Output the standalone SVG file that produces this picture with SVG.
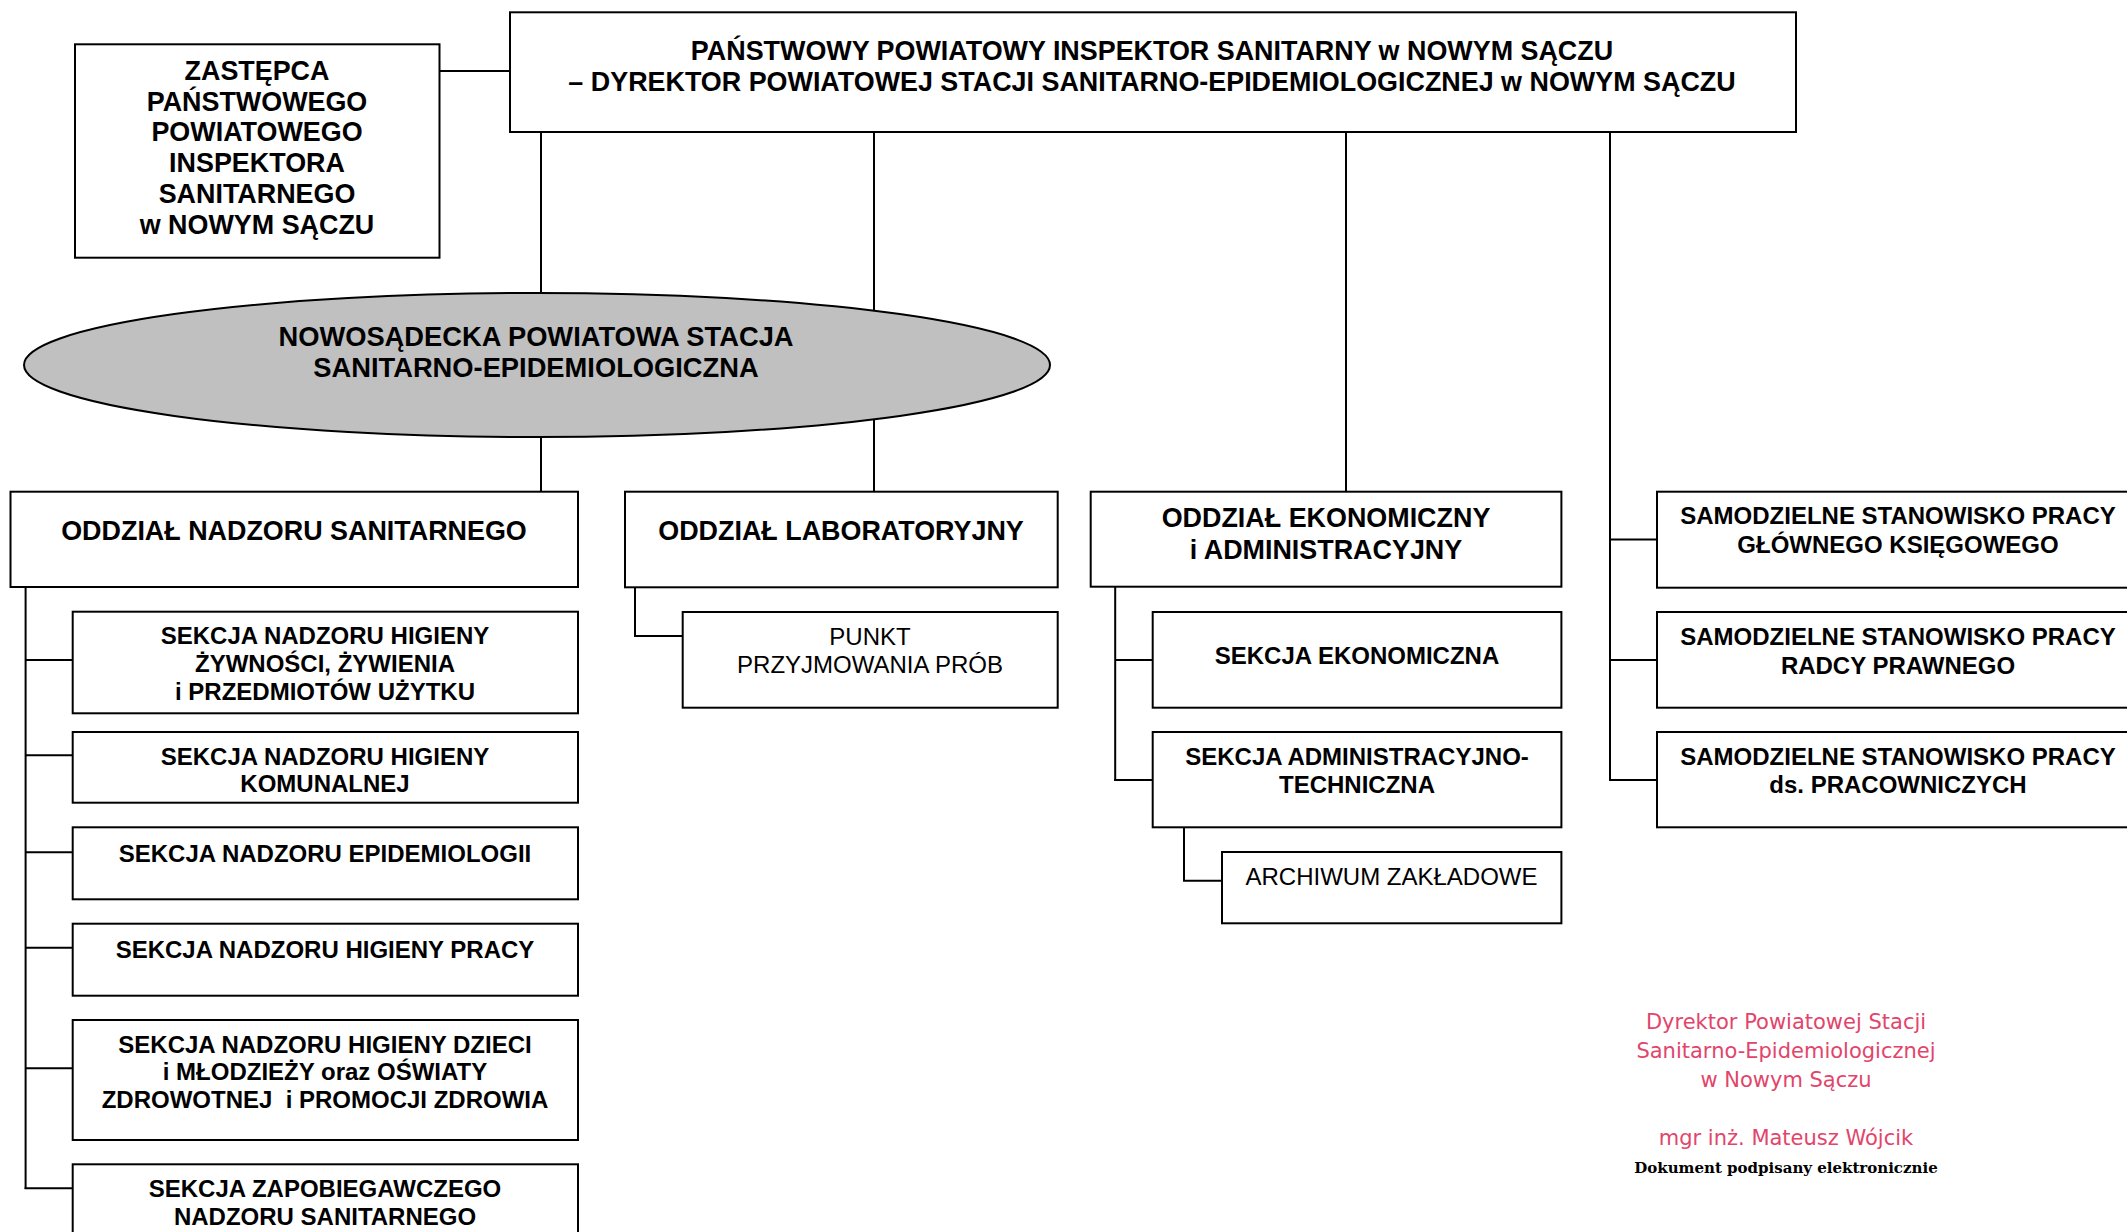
<svg xmlns="http://www.w3.org/2000/svg" width="2127" height="1232" viewBox="0 0 2127 1232">
<style>
.box{fill:#fff;stroke:#000;stroke-width:2}
.ell{fill:#c0c0c0;stroke:#000;stroke-width:2}
.c{stroke:#000;stroke-width:2;fill:none}
.b{font-family:"Liberation Sans",Arial,sans-serif;font-weight:bold;text-anchor:middle;fill:#000}
.h{font-size:26.9px}
.e{font-size:27.3px}
.s{font-size:24px}
.r{font-family:"Liberation Sans",Arial,sans-serif;font-size:24px;text-anchor:middle;fill:#000}
.sig{font-family:"DejaVu Sans",Verdana,sans-serif;font-size:21px;fill:#e2456b;text-anchor:middle}
.doc{font-family:"DejaVu Serif",serif;font-weight:bold;font-size:15px;text-anchor:middle;fill:#000}
</style>
<rect width="2127" height="1232" fill="#fff"/>
<g id="connectors">
<line class="c" x1="439.5" y1="71" x2="510" y2="71"/>
<line class="c" x1="541" y1="132" x2="541" y2="491.5"/>
<line class="c" x1="874" y1="132" x2="874" y2="491.5"/>
<line class="c" x1="1346" y1="132" x2="1346" y2="491.5"/>
<line class="c" x1="1610" y1="132" x2="1610" y2="780"/>
<line class="c" x1="1610" y1="539.5" x2="1657" y2="539.5"/>
<line class="c" x1="1610" y1="660" x2="1657" y2="660"/>
<line class="c" x1="1609" y1="780" x2="1657" y2="780"/>
<line class="c" x1="25.6" y1="587" x2="25.6" y2="1189"/>
<line class="c" x1="25.6" y1="660" x2="72.7" y2="660"/>
<line class="c" x1="25.6" y1="755.3" x2="72.7" y2="755.3"/>
<line class="c" x1="25.6" y1="852.3" x2="72.7" y2="852.3"/>
<line class="c" x1="25.6" y1="947.7" x2="72.7" y2="947.7"/>
<line class="c" x1="25.6" y1="1068.3" x2="72.7" y2="1068.3"/>
<line class="c" x1="24.6" y1="1188.3" x2="72.7" y2="1188.3"/>
<path class="c" d="M635 587 V636 H682.7"/>
<line class="c" x1="1115.2" y1="587" x2="1115.2" y2="781"/>
<line class="c" x1="1115.2" y1="660" x2="1152.7" y2="660"/>
<line class="c" x1="1114.2" y1="780" x2="1152.7" y2="780"/>
<path class="c" d="M1184 827 V880.7 H1222"/>
</g>
<g id="top">
<rect class="box" x="510" y="12.3" width="1286" height="119.7"/>
<text class="b h" x="1152" y="59.5">PAŃSTWOWY POWIATOWY INSPEKTOR SANITARNY w NOWYM SĄCZU</text>
<text class="b h" x="1152" y="90.5">– DYREKTOR POWIATOWEJ STACJI SANITARNO-EPIDEMIOLOGICZNEJ w NOWYM SĄCZU</text>
</g>
<g id="zastepca">
<rect class="box" x="75" y="44.3" width="364.5" height="213.4"/>
<text class="b h" x="257" y="79.5">ZASTĘPCA</text>
<text class="b h" x="257" y="110.5">PAŃSTWOWEGO</text>
<text class="b h" x="257" y="141.3">POWIATOWEGO</text>
<text class="b h" x="257" y="172">INSPEKTORA</text>
<text class="b h" x="257" y="203">SANITARNEGO</text>
<text class="b h" x="257" y="233.5">w NOWYM SĄCZU</text>
</g>
<g id="stacja">
<ellipse class="ell" cx="537" cy="365" rx="513" ry="72"/>
<text class="b e" x="536" y="346">NOWOSĄDECKA POWIATOWA STACJA</text>
<text class="b e" x="536" y="377">SANITARNO-EPIDEMIOLOGICZNA</text>
</g>
<g id="ons">
<rect class="box" x="10.5" y="491.7" width="567.5" height="95.3"/>
<text class="b h" x="294" y="540">ODDZIAŁ NADZORU SANITARNEGO</text>
</g>
<g id="s1">
<rect class="box" x="72.7" y="611.7" width="505.3" height="101.6"/>
<text class="b s" x="325" y="643.6">SEKCJA NADZORU HIGIENY</text>
<text class="b s" x="325" y="671.6">ŻYWNOŚCI, ŻYWIENIA</text>
<text class="b s" x="325" y="699.6">i PRZEDMIOTÓW UŻYTKU</text>
</g>
<g id="s2">
<rect class="box" x="72.7" y="732" width="505.3" height="70.7"/>
<text class="b s" x="325" y="764.6">SEKCJA NADZORU HIGIENY</text>
<text class="b s" x="325" y="792">KOMUNALNEJ</text>
</g>
<g id="s3">
<rect class="box" x="72.7" y="827.3" width="505.3" height="72"/>
<text class="b s" x="325" y="862">SEKCJA NADZORU EPIDEMIOLOGII</text>
</g>
<g id="s4">
<rect class="box" x="72.7" y="923.7" width="505.3" height="72"/>
<text class="b s" x="325" y="958">SEKCJA NADZORU HIGIENY PRACY</text>
</g>
<g id="s5">
<rect class="box" x="72.7" y="1020" width="505.3" height="120"/>
<text class="b s" x="325" y="1052.6">SEKCJA NADZORU HIGIENY DZIECI</text>
<text class="b s" x="325" y="1079.6">i MŁODZIEŻY oraz OŚWIATY</text>
<text class="b s" x="325" y="1108" xml:space="preserve">ZDROWOTNEJ  i PROMOCJI ZDROWIA</text>
</g>
<g id="s6">
<rect class="box" x="72.7" y="1164.3" width="505.3" height="90"/>
<text class="b s" x="325" y="1196.6">SEKCJA ZAPOBIEGAWCZEGO</text>
<text class="b s" x="325" y="1224.6">NADZORU SANITARNEGO</text>
</g>
<g id="ol">
<rect class="box" x="625" y="491.7" width="432.7" height="95.6"/>
<text class="b h" x="841" y="540">ODDZIAŁ LABORATORYJNY</text>
</g>
<g id="punkt">
<rect class="box" x="682.7" y="612" width="375" height="95.7"/>
<text class="r" x="870" y="645">PUNKT</text>
<text class="r" x="870" y="672.5">PRZYJMOWANIA PRÓB</text>
</g>
<g id="oea">
<rect class="box" x="1090.7" y="491.7" width="470.7" height="95"/>
<text class="b h" x="1326" y="527">ODDZIAŁ EKONOMICZNY</text>
<text class="b h" x="1326" y="558.5">i ADMINISTRACYJNY</text>
</g>
<g id="se">
<rect class="box" x="1152.7" y="612" width="408.7" height="95.7"/>
<text class="b s" x="1357" y="664">SEKCJA EKONOMICZNA</text>
</g>
<g id="sat">
<rect class="box" x="1152.7" y="732" width="408.7" height="95.3"/>
<text class="b s" x="1357" y="764.5">SEKCJA ADMINISTRACYJNO-</text>
<text class="b s" x="1357" y="793">TECHNICZNA</text>
</g>
<g id="arch">
<rect class="box" x="1222" y="852" width="339.4" height="71.3"/>
<text class="r" x="1391.5" y="885">ARCHIWUM ZAKŁADOWE</text>
</g>
<g id="ssp1">
<rect class="box" x="1657" y="491.7" width="490" height="96"/>
<text class="b s" x="1898" y="524">SAMODZIELNE STANOWISKO PRACY</text>
<text class="b s" x="1898" y="552.5">GŁÓWNEGO KSIĘGOWEGO</text>
</g>
<g id="ssp2">
<rect class="box" x="1657" y="612" width="490" height="95.7"/>
<text class="b s" x="1898" y="645">SAMODZIELNE STANOWISKO PRACY</text>
<text class="b s" x="1898" y="673.5">RADCY PRAWNEGO</text>
</g>
<g id="ssp3">
<rect class="box" x="1657" y="732" width="490" height="95.3"/>
<text class="b s" x="1898" y="764.5">SAMODZIELNE STANOWISKO PRACY</text>
<text class="b s" x="1898" y="793">ds. PRACOWNICZYCH</text>
</g>
<g id="signature">
<text class="sig" x="1786" y="1029">Dyrektor Powiatowej Stacji</text>
<text class="sig" x="1786" y="1058">Sanitarno-Epidemiologicznej</text>
<text class="sig" x="1786" y="1087">w Nowym Sączu</text>
<text class="sig" x="1786" y="1145">mgr inż. Mateusz Wójcik</text>
<text class="doc" x="1786" y="1173">Dokument podpisany elektronicznie</text>
</g>
</svg>
